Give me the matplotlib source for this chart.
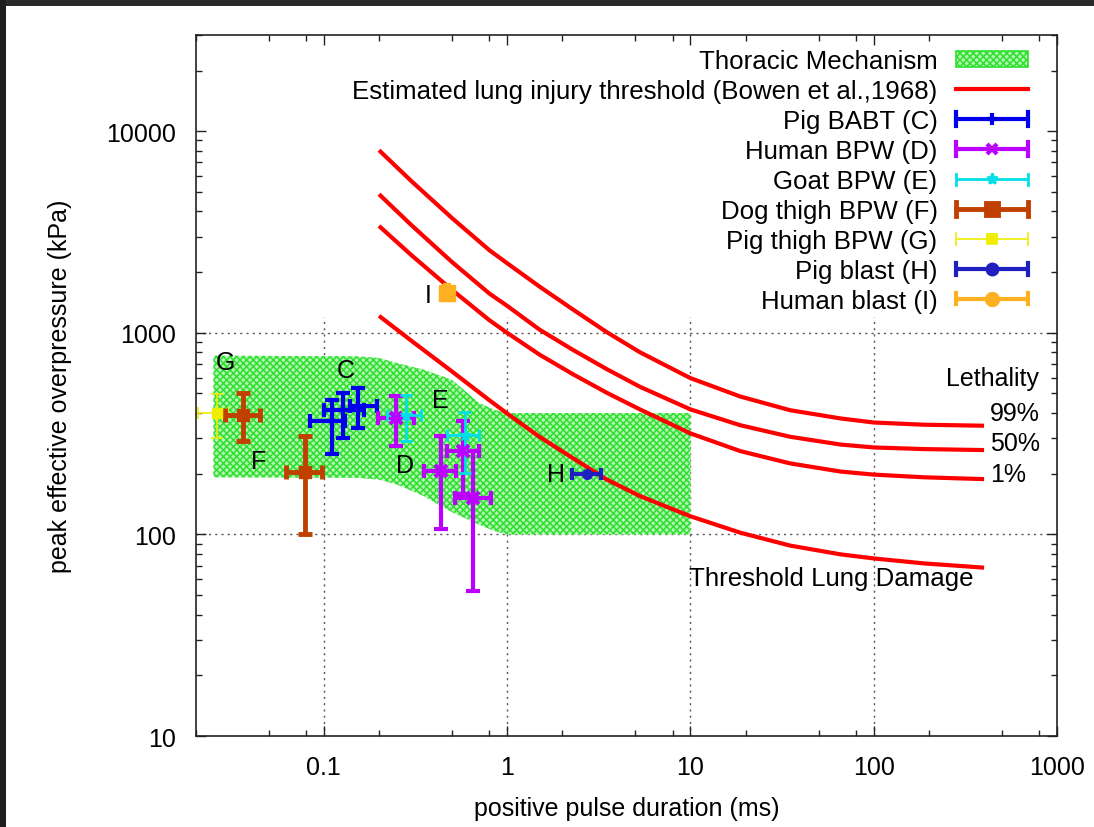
import matplotlib
matplotlib.use('Agg')
import matplotlib.pyplot as plt
import numpy as np
from matplotlib.lines import Line2D
from matplotlib.patches import Rectangle
from matplotlib.legend_handler import HandlerBase
from matplotlib.ticker import FixedLocator, FixedFormatter, LogLocator, NullFormatter

plt.rcParams['font.family'] = ['Liberation Sans', 'DejaVu Sans']
plt.rcParams['hatch.linewidth'] = 1.1

# ---------------- data ----------------
x_ticks = [0.1, 1, 10, 100, 1000]
x_tick_labels = ['0.1', '1', '10', '100', '1000']
y_ticks = [10, 100, 1000, 10000]
y_tick_labels = ['10', '100', '1000', '10000']

# Thoracic mechanism region
thor_t = [0.025, 0.15, 0.2, 0.25, 0.35, 0.5, 0.7, 0.85, 1.0, 10]
thor_hi = [770, 765, 750, 708, 656, 585, 450, 415, 400, 400]
thor_lo = [192, 191, 187, 177, 155, 129, 112, 104, 100, 100]

# Bowen et al. 1968 curves
bowen_t = [0.2, 0.3, 0.5, 0.8, 1.0, 1.5, 2.3, 3.5, 5.3, 10, 18.7, 35, 66, 100, 188, 400]
bowen_99 = [8050, 5660, 3710, 2569, 2214, 1697, 1300, 1007, 801, 596, 483, 413, 376, 359, 350, 346]
bowen_50 = [4870, 3424, 2245, 1566, 1361, 1038, 820, 660, 540, 417, 348, 305, 279, 270, 265, 262]
bowen_1 = [3390, 2430, 1633, 1155, 1000, 780, 621, 504, 417, 317, 259, 225, 205, 198, 192, 188]
bowen_thr = [1214, 914, 643, 463, 398, 305, 238, 187, 155, 123, 102, 88, 79.6, 76, 71.8, 68.4]

# Pig BABT (C)
c_x = [0.111, 0.128, 0.154]
c_y = [364, 415, 432]
c_xlo = [0.084, 0.100, 0.139]
c_xhi = [0.130, 0.165, 0.194]
c_ylo = [251, 301, 337]
c_yhi = [466, 502, 532]

# Human BPW (D)
d_x = [0.249, 0.434, 0.574, 0.650]
d_y = [378, 207, 258, 152]
d_xlo = [0.198, 0.351, 0.467, 0.517]
d_xhi = [0.310, 0.528, 0.706, 0.818]
d_ylo = [274, 106, 158, 52.4]
d_yhi = [484, 307, 364, 258]

# Goat BPW (E)
e_x = [0.28, 0.586]
e_y = [393, 310]
e_xlo = [0.221, 0.467]
e_xhi = [0.341, 0.706]
e_ylo = [290, 202]
e_yhi = [493, 407]

# Dog thigh BPW (F)
f_x = [0.036, 0.079]
f_y = [390, 205]
f_xlo = [0.029, 0.062]
f_xhi = [0.045, 0.098]
f_ylo = [290, 101]
f_yhi = [500, 307]

# Pig thigh BPW (G)
g_x = [0.026]
g_y = [400]
g_xlo = [0.0205]
g_xhi = [0.030]
g_ylo = [301]
g_yhi = [499]

# Pig blast (H)
h_x = [2.74]
h_y = [200]
h_xlo = [2.27]
h_xhi = [3.24]

# Human blast (I)
i_x = [0.47]
i_y = [1580]
i_xlo = [0.44]
i_xhi = [0.50]
i_ylo = [1450]
i_yhi = [1720]

# ---------------- styles ----------------
FS = 18
FSL = 18.6
col_c = '#0000ee'
col_d = '#bb00ff'
col_e = '#00e0e8'
col_f = '#c04000'
col_g = '#eeee00'
col_h = '#2020c0'
col_i = '#ffb020'
col_red = '#ff0000'
col_green = '#2ee02e'
fill_face = '#b4f4b4'


class EB:
    def __init__(self, color, lw, marker, ms, cap):
        self.color = color
        self.lw = lw
        self.marker = marker
        self.ms = ms
        self.cap = cap


class EBHandler(HandlerBase):
    def create_artists(self, legend, h, xdescent, ydescent, width, height, fontsize, trans):
        x0 = -xdescent
        x1 = x0 + width
        yc = (height - ydescent) / 2.0
        arts = []
        arts.append(Line2D([x0, x1], [yc, yc], color=h.color, lw=h.lw, solid_capstyle='butt'))
        arts.append(Line2D([x0, x0], [yc - h.cap, yc + h.cap], color=h.color, lw=h.lw))
        arts.append(Line2D([x1, x1], [yc - h.cap, yc + h.cap], color=h.color, lw=h.lw))
        arts.append(Line2D([(x0 + x1) / 2], [yc], color=h.color, marker=h.marker, ms=h.ms,
                           mew=h.lw, linestyle='none'))
        for a in arts:
            a.set_transform(trans)
        return arts


def errs(v, lo, hi):
    v = np.asarray(v, float)
    return [v - np.asarray(lo, float), np.asarray(hi, float) - v]


fig = plt.figure(figsize=(10.94, 8.28), dpi=100)
ax = fig.add_axes([0.1789, 0.1099, 0.7873, 0.8466])
ax.set_xscale('log')
ax.set_yscale('log')
ax.set_xlim(0.02, 1000)
ax.set_ylim(10, 30000)

# grid (partly hidden by the key area in the original)
ylog0, ylog1 = np.log10(10), np.log10(30000)
gtop = (np.log10(1200) - ylog0) / (ylog1 - ylog0)
for gx in x_ticks[:-1]:
    ax.axvline(gx, ymin=0, ymax=gtop, color='#555555', lw=1.0, ls=(0, (1.5, 3)), zorder=0.5)
for gy in y_ticks[1:3]:
    ax.axhline(gy, color='#555555', lw=1.0, ls=(0, (1.5, 3)), zorder=0.5)

# thoracic region
ax.fill_between(thor_t, thor_lo, thor_hi, facecolor=fill_face, edgecolor=col_green,
                hatch='xxxxx', linewidth=0, zorder=1)

# Bowen curves
for ser in (bowen_99, bowen_50, bowen_1, bowen_thr):
    ax.plot(bowen_t, ser, color=col_red, lw=3, zorder=2, solid_capstyle='butt',
            solid_joinstyle='round')

# error bar series
ax.errorbar(g_x, g_y, xerr=errs(g_x, g_xlo, g_xhi), yerr=errs(g_y, g_ylo, g_yhi), fmt='s',
            color=col_g, ms=7, lw=1.2, capsize=4, capthick=1.2, zorder=3)
ax.errorbar(f_x, f_y, xerr=errs(f_x, f_xlo, f_xhi), yerr=errs(f_y, f_ylo, f_yhi), fmt='s',
            color=col_f, ms=8, lw=3.5, capsize=5, capthick=3.5, zorder=3)
ax.errorbar(c_x, c_y, xerr=errs(c_x, c_xlo, c_xhi), yerr=errs(c_y, c_ylo, c_yhi), fmt='+',
            color=col_c, ms=8, mew=3, lw=3, capsize=5, capthick=3, zorder=3)
ax.errorbar(d_x, d_y, xerr=errs(d_x, d_xlo, d_xhi), yerr=errs(d_y, d_ylo, d_yhi), fmt='x',
            color=col_d, ms=8, mew=3, lw=3, capsize=5, capthick=3, zorder=3)
ax.errorbar(e_x, e_y, xerr=errs(e_x, e_xlo, e_xhi), yerr=errs(e_y, e_ylo, e_yhi), fmt='*',
            color=col_e, ms=9, lw=2, capsize=4, capthick=2, zorder=3)
ax.errorbar(h_x, h_y, xerr=errs(h_x, h_xlo, h_xhi), fmt='o',
            color=col_h, ms=7, lw=3, capsize=4, capthick=3, zorder=3)
ax.errorbar(i_x, i_y, xerr=errs(i_x, i_xlo, i_xhi), yerr=errs(i_y, i_ylo, i_yhi), fmt='s',
            color=col_i, ms=11, lw=3, capsize=3, capthick=3, zorder=3)

# labels on plot
ax.text(0.0291, 718, 'G', fontsize=FS, ha='center', va='center')
ax.text(0.132, 656, 'C', fontsize=FS, ha='center', va='center')
ax.text(0.044, 230, 'F', fontsize=FS, ha='center', va='center')
ax.text(0.277, 222, 'D', fontsize=FS, ha='center', va='center')
ax.text(0.434, 466, 'E', fontsize=FS, ha='center', va='center')
ax.text(1.85, 200, 'H', fontsize=FS, ha='center', va='center')
ax.text(0.369, 1540, 'I', fontsize=FS, ha='center', va='center')
ax.text(445, 600, 'Lethality', fontsize=FS, ha='center', va='center')
ax.text(430, 398, '99%', fontsize=FS, ha='left', va='center')
ax.text(430, 285, '50%', fontsize=FS, ha='left', va='center')
ax.text(430, 200, '1%', fontsize=FS, ha='left', va='center')
ax.text(9.8, 60.5, 'Threshold Lung Damage', fontsize=FSL, ha='left', va='center')

# axes cosmetics
ax.xaxis.set_major_locator(FixedLocator(x_ticks))
ax.xaxis.set_major_formatter(FixedFormatter(x_tick_labels))
ax.xaxis.set_minor_locator(LogLocator(base=10, subs=[2, 5, 8]))
ax.xaxis.set_minor_formatter(NullFormatter())
ax.yaxis.set_major_locator(FixedLocator(y_ticks))
ax.yaxis.set_major_formatter(FixedFormatter(y_tick_labels))
ax.yaxis.set_minor_locator(LogLocator(base=10, subs=np.arange(2, 10)))
ax.yaxis.set_minor_formatter(NullFormatter())
ax.tick_params(which='both', direction='in', top=True, right=True, labelsize=FS,
               color='#222222', width=1.0)
ax.tick_params(which='major', length=7, pad=14)
ax.tick_params(which='minor', length=4)
for s in ax.spines.values():
    s.set_linewidth(1.2)
    s.set_color('#222222')

ax.set_xlabel('positive pulse duration (ms)', fontsize=FS, labelpad=12)
ax.set_ylabel('peak effective overpressure (kPa)', fontsize=FS, labelpad=25)

# legend
handles = [
    Rectangle((0, 0), 1, 1, facecolor=fill_face, edgecolor=col_green, hatch='xxxxx', lw=1.2),
    Line2D([], [], color=col_red, lw=3),
    EB(col_c, 3, '+', 8, 5),
    EB(col_d, 3, 'x', 7, 5),
    EB(col_e, 2, '*', 8, 4),
    EB(col_f, 3.5, 's', 8, 5),
    EB(col_g, 1.2, 's', 7, 4),
    EB(col_h, 3, 'o', 7, 4),
    EB(col_i, 3, 'o', 8, 4),
]
labels = ['Thoracic Mechanism', 'Estimated lung injury threshold (Bowen et al.,1968)',
          'Pig BABT (C)', 'Human BPW (D)', 'Goat BPW (E)', 'Dog thigh BPW (F)',
          'Pig thigh BPW (G)', 'Pig blast (H)', 'Human blast (I)']
leg = ax.legend(handles, labels, handler_map={EB: EBHandler()}, loc='upper right',
                bbox_to_anchor=(0.9663, 0.980), borderaxespad=0, borderpad=0,
                frameon=False, markerfirst=False, fontsize=FSL, handlelength=2.8,
                handleheight=0.6, handletextpad=0.7, labelspacing=0.23)
leg.set_zorder(5)

# dark screenshot border
fig.patches.append(Rectangle((0, 1 - 7 / 828), 1, 7 / 828, transform=fig.transFigure,
                             facecolor='#2a2a2a', edgecolor='none', zorder=10))
fig.patches.append(Rectangle((0, 0), 6 / 1094, 1, transform=fig.transFigure,
                             facecolor='#1e1e1e', edgecolor='none', zorder=10))

fig.savefig('out.png', dpi=100)
